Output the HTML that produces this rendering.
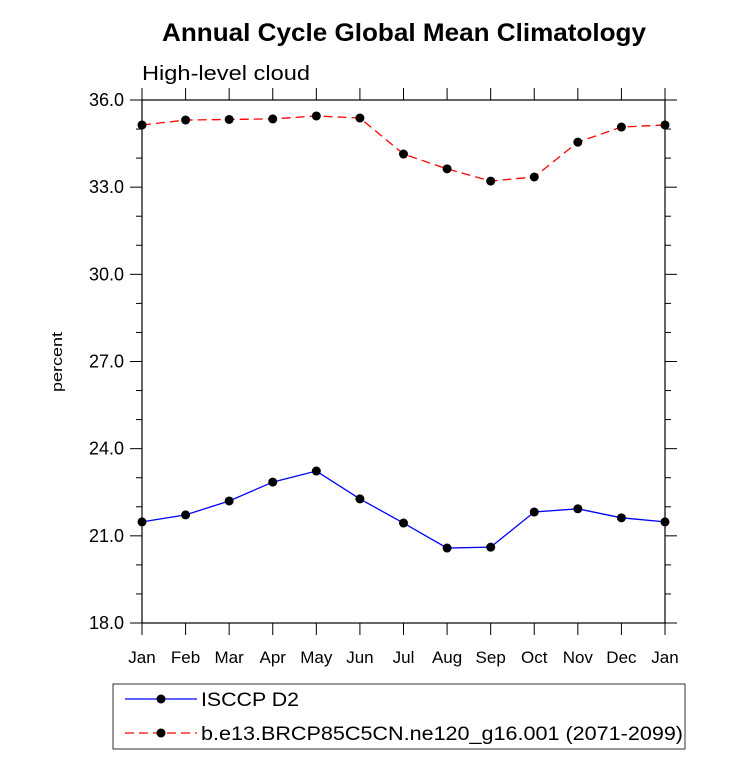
<!DOCTYPE html>
<html><head><meta charset="utf-8"><style>body{margin:0;background:#fff}svg text{font-family:"Liberation Sans",Arial,sans-serif}</style></head>
<body>
<svg id="chart" width="733" height="759" xmlns="http://www.w3.org/2000/svg">
<text x="162" y="41" font-size="25" font-weight="bold" textLength="484" lengthAdjust="spacingAndGlyphs">Annual Cycle Global Mean Climatology</text>
<text x="142" y="80" font-size="20" textLength="168" lengthAdjust="spacingAndGlyphs">High-level cloud</text>
<text transform="translate(62,362) rotate(-90)" font-size="15" text-anchor="middle" textLength="60" lengthAdjust="spacingAndGlyphs">percent</text>
<rect x="142" y="100" width="523" height="523" fill="none" stroke="#000" stroke-width="1.2"/>
<g id="axes"></g><g id="series"></g>
<rect x="113" y="684" width="572" height="65" fill="#fff" stroke="#000" stroke-width="0.8"/>
<line x1="125" y1="699" x2="197" y2="699" stroke="#00f" stroke-width="1.3"/>
<circle cx="161" cy="699" r="4.5"/>
<text x="201" y="706" font-size="19" textLength="98" lengthAdjust="spacingAndGlyphs">ISCCP D2</text>
<line x1="125" y1="733" x2="197" y2="733" stroke="#f00" stroke-width="1.3" stroke-dasharray="9,5"/>
<circle cx="161" cy="733" r="4.5"/>
<text x="201" y="740" font-size="19" textLength="482" lengthAdjust="spacingAndGlyphs">b.e13.BRCP85C5CN.ne120_g16.001 (2071-2099)</text>
</svg>
<script>
const months=["Jan","Feb","Mar","Apr","May","Jun","Jul","Aug","Sep","Oct","Nov","Dec","Jan"];
const isccp=[21.48,21.72,22.20,22.85,23.23,22.27,21.44,20.58,20.61,21.82,21.93,21.62,21.48];
const model=[35.14,35.31,35.33,35.35,35.45,35.38,34.14,33.63,33.21,33.35,34.55,35.07,35.14];
const yTicks=[18,21,24,27,30,33,36];
const X0=142,X1=665,Y0=623,Y1=100,YMIN=18,YMAX=36;
const xs=i=>X0+(X1-X0)*i/(months.length-1);
const ys=v=>Y0-(v-YMIN)/(YMAX-YMIN)*(Y0-Y1);
const NS="http://www.w3.org/2000/svg";
const ax=document.getElementById("axes"),se=document.getElementById("series");
function mk(p,t,a){const e=document.createElementNS(NS,t);for(const k in a)e.setAttribute(k,a[k]);p.appendChild(e);return e;}
months.forEach((m,i)=>{const x=xs(i);
 let t=mk(ax,"line",{x1:x,y1:Y0,x2:x,y2:Y0+12,stroke:"#000"});
 
 
 t=mk(ax,"line",{x1:x,y1:Y1,x2:x,y2:Y1-12,stroke:"#000"});
 
 
 const l=mk(ax,"text",{x:x,y:Y0+40,"font-size":17,"text-anchor":"middle"});l.textContent=m;
 
 
});
for(let v=YMIN;v<=YMAX;v+=1){const y=ys(v);const maj=yTicks.includes(v);const len=maj?12:6;
 let t=mk(ax,"line",{x1:X0-len,y1:y,x2:X0,y2:y,stroke:"#000"});
 
 
 t=mk(ax,"line",{x1:X1,y1:y,x2:X1+len,y2:y,stroke:"#000"});
 
 
 if(maj){const l=mk(ax,"text",{x:X0-18,y:y+6,"font-size":18,"text-anchor":"end"});l.textContent=v.toFixed(1);
 
 }
}
function series(vals,color,dash,name){
 const pl=mk(se,"polyline",{points:vals.map((v,i)=>xs(i)+","+ys(v)).join(" "),fill:"none",stroke:color,"stroke-width":1.3});
 if(dash)pl.setAttribute("stroke-dasharray",dash);
 
 
 vals.forEach((v,i)=>{const c=mk(se,"circle",{cx:xs(i),cy:ys(v),r:4.5,fill:"#000"});
 
 });
}
series(isccp,"#00f",null,"isccp");
series(model,"#f00","9,5","model");
</script>
</body></html>
